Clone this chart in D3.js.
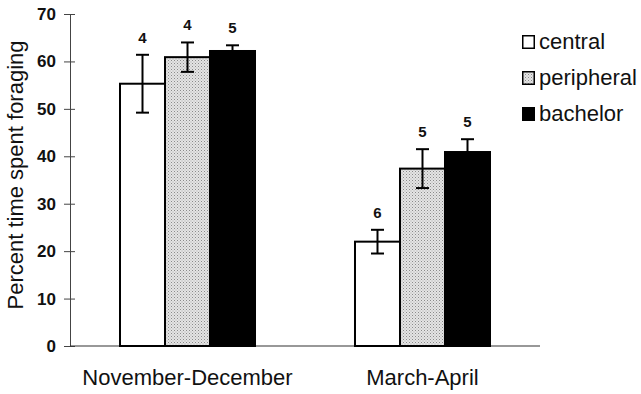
<!DOCTYPE html>
<html>
<head>
<meta charset="utf-8">
<script src="https://cdn.jsdelivr.net/npm/d3@7"></script>
<style>
  html, body { margin: 0; padding: 0; background: #fff; }
  svg { display: block; font-family: "Liberation Sans", Arial, Helvetica, sans-serif; }
</style>
</head>
<body>
<svg id="chart" width="641" height="394"></svg>
<script>
// Seasons on the x axis, social classes as grouped bars
const seasons = ["November-December", "March-April"];
const classes = ["central", "peripheral", "bachelor"];

// Mean percent time spent foraging, per season, in class order
const meanNovDec = [55.3, 60.9, 62.2];
const meanMarApr = [22.0, 37.4, 40.9];

// Standard errors
const seNovDec = [6.1, 3.1, 1.2];
const seMarApr = [2.5, 4.1, 2.7];

// Sample sizes printed above each bar
const nNovDec = [4, 4, 5];
const nMarApr = [6, 5, 5];

const yTicks = [0, 10, 20, 30, 40, 50, 60, 70];
const yTitle = "Percent time spent foraging";

const rows = [
  { season: seasons[0], mean: meanNovDec, se: seNovDec, n: nNovDec },
  { season: seasons[1], mean: meanMarApr, se: seMarApr, n: nMarApr }
];

const svg = d3.select("#chart");

// Stippled fill for the peripheral bars
const defs = svg.append("defs");
const pat = defs.append("pattern")
  .attr("id", "stipple")
  .attr("patternUnits", "userSpaceOnUse")
  .attr("width", 3).attr("height", 3);
pat.append("rect").attr("width", 3).attr("height", 3).attr("fill", "#e4e4e4");
pat.append("rect").attr("x", 0).attr("y", 0).attr("width", 1).attr("height", 1).attr("fill", "#8a8a8a");
pat.append("rect").attr("x", 1.5).attr("y", 1.5).attr("width", 1).attr("height", 1).attr("fill", "#a8a8a8");

const fills = { central: "#fff", peripheral: "url(#stipple)", bachelor: "#000" };

const y = d3.scaleLinear().domain([0, 70]).range([346, 14]);
const x0 = d3.scaleBand().domain(seasons).range([120, 490]).paddingInner(0.4255);
const x1 = d3.scaleBand().domain(classes).range([0, x0.bandwidth()]);

// Y axis with ticks crossing the line
const yAxis = svg.append("g")
  .attr("transform", "translate(70,0)")
  .call(d3.axisLeft(y).tickValues(yTicks).tickSize(6).tickPadding(8).tickSizeOuter(0));
yAxis.select(".domain").attr("stroke", "#444").attr("stroke-width", 1);
yAxis.selectAll(".tick line").attr("x1", 5).attr("stroke", "#444").attr("stroke-width", 1);
yAxis.selectAll(".tick text")
  .attr("font-size", 17).attr("font-weight", "bold").attr("fill", "#111")
  .attr("font-family", "'Liberation Sans', Arial, sans-serif");

// Baseline
svg.append("line")
  .attr("x1", 70).attr("x2", 540)
  .attr("y1", y(0)).attr("y2", y(0))
  .attr("stroke", "#333").attr("stroke-width", 1.2);

// Bars
const groups = svg.selectAll("g.season")
  .data(rows).join("g")
  .attr("class", "season")
  .attr("transform", d => `translate(${x0(d.season)},0)`);

const items = groups.selectAll("g.item")
  .data(d => classes.map((c, i) => ({ cls: c, mean: d.mean[i], se: d.se[i], n: d.n[i] })))
  .join("g").attr("class", "item");

items.append("rect")
  .attr("x", d => x1(d.cls))
  .attr("y", d => y(d.mean))
  .attr("width", x1.bandwidth())
  .attr("height", d => y(0) - y(d.mean))
  .attr("fill", d => fills[d.cls])
  .attr("stroke", "#000")
  .attr("stroke-width", 2);

// Error bars
const cap = 6.5;
items.append("line")
  .attr("x1", d => x1(d.cls) + x1.bandwidth() / 2)
  .attr("x2", d => x1(d.cls) + x1.bandwidth() / 2)
  .attr("y1", d => y(d.mean - d.se))
  .attr("y2", d => y(d.mean + d.se))
  .attr("stroke", "#000").attr("stroke-width", 2);
items.append("line")
  .attr("x1", d => x1(d.cls) + x1.bandwidth() / 2 - cap)
  .attr("x2", d => x1(d.cls) + x1.bandwidth() / 2 + cap)
  .attr("y1", d => y(d.mean + d.se))
  .attr("y2", d => y(d.mean + d.se))
  .attr("stroke", "#000").attr("stroke-width", 2);
items.append("line")
  .attr("x1", d => x1(d.cls) + x1.bandwidth() / 2 - cap)
  .attr("x2", d => x1(d.cls) + x1.bandwidth() / 2 + cap)
  .attr("y1", d => y(d.mean - d.se))
  .attr("y2", d => y(d.mean - d.se))
  .attr("stroke", "#000").attr("stroke-width", 2);

// Sample sizes
items.append("text")
  .attr("x", d => x1(d.cls) + x1.bandwidth() / 2)
  .attr("y", d => y(d.mean + d.se) - 12)
  .attr("text-anchor", "middle")
  .attr("font-size", 15).attr("font-weight", "bold").attr("fill", "#111")
  .text(d => d.n);

// Season labels
svg.selectAll("text.season-label")
  .data(seasons).join("text")
  .attr("class", "season-label")
  .attr("x", d => x0(d) + x0.bandwidth() / 2)
  .attr("y", 385)
  .attr("text-anchor", "middle")
  .attr("font-size", 22).attr("fill", "#111")
  .text(d => d);

// Y axis title
svg.append("text")
  .attr("transform", `translate(23,${(y(0) + y(70)) / 2 - 5}) rotate(-90)`)
  .attr("text-anchor", "middle")
  .attr("font-size", 22).attr("fill", "#111")
  .text(yTitle);

// Legend
const legend = svg.append("g").attr("transform", "translate(522,35)");
const li = legend.selectAll("g").data(classes).join("g")
  .attr("transform", (d, i) => `translate(0,${i * 36})`);
li.append("rect")
  .attr("x", 0.75).attr("y", 0.75).attr("width", 11.5).attr("height", 12.5)
  .attr("fill", d => fills[d]).attr("stroke", "#000").attr("stroke-width", 1.5);
li.append("text")
  .attr("x", 17).attr("y", 14)
  .attr("font-size", 22).attr("fill", "#111")
  .text(d => d);
</script>
</body>
</html>
